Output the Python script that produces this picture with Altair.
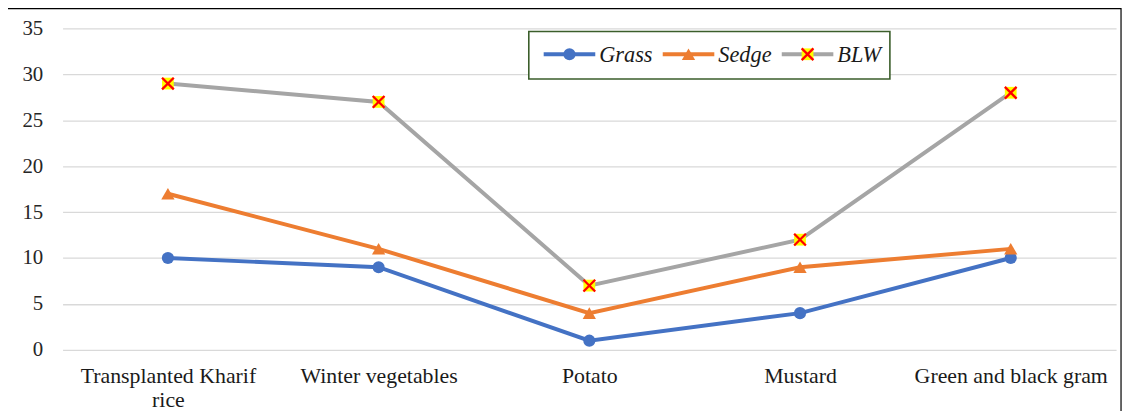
import altair as alt
import pandas as pd

crops = ["Transplanted Kharif rice", "Winter vegetables", "Potato", "Mustard", "Green and black gram"]
grass = [10, 9, 1, 4, 10]
sedge = [17, 11, 4, 9, 11]
blw = [29, 27, 7, 12, 28]
series = ["Grass", "Sedge", "BLW"]
colors = ["#4472C4", "#ED7D31", "#A5A5A5"]

rows = []
for name, vals in zip(series, [grass, sedge, blw]):
    for c, v in zip(crops, vals):
        rows.append({"crop": c, "value": v, "series": name})
df = pd.DataFrame(rows)

W, H = 1062, 324
FONT = "Liberation Serif"

xenc = alt.X("crop:N", sort=crops, title=None,
             scale=alt.Scale(type="point", padding=0.5),
             axis=alt.Axis(domain=False, ticks=False, grid=False, labelAngle=0,
                           labelFont=FONT, labelFontSize=22, labelColor="#1a1a1a",
                           labelPadding=16, labelLineHeight=24, labelLimit=400,
                           labelExpr="datum.value == 'Transplanted Kharif rice' ? ['Transplanted Kharif', 'rice'] : datum.value"))
yenc = alt.Y("value:Q", title=None,
             scale=alt.Scale(domain=[0, 35], nice=False),
             axis=alt.Axis(values=[0, 5, 10, 15, 20, 25, 30, 35], domain=False, ticks=False,
                           gridColor="#D9D9D9", gridWidth=1.3,
                           labelFont=FONT, labelFontSize=21, labelColor="#262626",
                           labelPadding=20))
cscale = alt.Scale(domain=series, range=colors)

base = alt.Chart(df)
lines = base.mark_line(strokeWidth=4).encode(
    x=xenc, y=yenc,
    color=alt.Color("series:N", scale=cscale, legend=None),
    detail="series:N")
gpts = base.transform_filter("datum.series == 'Grass'").mark_point(
    shape="circle", filled=True, size=150, color="#4472C4", opacity=1).encode(x=xenc, y=yenc)
spts = base.transform_filter("datum.series == 'Sedge'").mark_point(
    shape="triangle-up", filled=True, size=180, color="#ED7D31", opacity=1).encode(x=xenc, y=yenc)
bsq = base.transform_filter("datum.series == 'BLW'").mark_point(
    shape="square", filled=True, size=140, color="#FFFF00", opacity=1).encode(x=xenc, y=yenc)
bx = base.transform_filter("datum.series == 'BLW'").mark_point(
    shape="M-1,-1L1,1M-1,1L1,-1", filled=False, size=140, color="#FF0000",
    strokeWidth=2.3, opacity=1).encode(x=xenc, y=yenc)

# outer border
one = pd.DataFrame({"k": [0]})
border = alt.Chart(one).mark_rect(fill=None, stroke="#000000", strokeWidth=1.2, clip=False).encode(
    x=alt.value(-56), x2=alt.value(1067), y=alt.value(-20), y2=alt.value(420))

# legend
lx0, ly = 470, 26
legbox = alt.Chart(one).mark_rect(fill="white", stroke="#3B5E2B", strokeWidth=1.6).encode(
    x=alt.value(lx0), x2=alt.value(lx0 + 364), y=alt.value(3), y2=alt.value(51))
leg_layers = [legbox]
offsets = [15, 135, 255]
for name, col, off in zip(series, colors, offsets):
    sx = lx0 + off
    leg_layers.append(alt.Chart(one).mark_rule(color=col, strokeWidth=4).encode(
        x=alt.value(sx), x2=alt.value(sx + 52), y=alt.value(ly)))
    leg_layers.append(alt.Chart(one).mark_text(
        text=name, font=FONT, fontSize=22.5, fontStyle="italic", align="left",
        baseline="middle", color="#1a1a1a").encode(x=alt.value(sx + 56), y=alt.value(ly + 1)))
mx = [lx0 + o + 26 for o in offsets]
leg_layers.append(alt.Chart(one).mark_point(shape="circle", filled=True, size=150, color="#4472C4", opacity=1).encode(
    x=alt.value(mx[0]), y=alt.value(ly)))
leg_layers.append(alt.Chart(one).mark_point(shape="triangle-up", filled=True, size=180, color="#ED7D31", opacity=1).encode(
    x=alt.value(mx[1]), y=alt.value(ly)))
leg_layers.append(alt.Chart(one).mark_point(shape="square", filled=True, size=140, color="#FFFF00", opacity=1).encode(
    x=alt.value(mx[2]), y=alt.value(ly)))
leg_layers.append(alt.Chart(one).mark_point(shape="M-1,-1L1,1M-1,1L1,-1", filled=False, size=140, color="#FF0000",
                                            strokeWidth=2.3, opacity=1).encode(
    x=alt.value(mx[2]), y=alt.value(ly)))

chart = alt.layer(lines, gpts, spts, bsq, bx, *leg_layers, border).properties(
    width=W, height=H,
    autosize=alt.AutoSizeParams(type="none"),
    padding={"left": 55, "top": 19, "right": 9, "bottom": 60},
    background="white",
).configure_view(stroke=None)

chart.save("out.html", embed_options={"renderer": "svg", "actions": False})
